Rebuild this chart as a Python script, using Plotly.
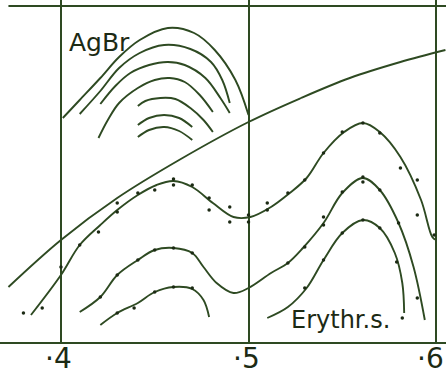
import plotly.graph_objects as go

# wavelength (micron) and arbitrary absorption units
ref_x = [0.372, 0.400, 0.430, 0.463, 0.500, 0.528, 0.554, 0.581, 0.605]
ref_y = [5.5, 10.2, 14.4, 18.2, 22.0, 24.4, 26.4, 28.0, 29.2]

# AgBr family (top left, between .4 and .5)
agbr_1x = [0.401, 0.410, 0.421, 0.431, 0.442, 0.457, 0.471, 0.482, 0.493, 0.500]
agbr_1y = [22.4, 24.2, 26.4, 28.5, 30.2, 31.4, 30.9, 29.2, 26.2, 22.7]
agbr_2x = [0.410, 0.421, 0.431, 0.442, 0.455, 0.469, 0.480, 0.486, 0.490]
agbr_2y = [22.8, 25.1, 27.4, 28.9, 29.7, 29.3, 28.0, 26.2, 23.9]
agbr_3x = [0.421, 0.429, 0.437, 0.447, 0.457, 0.466, 0.477, 0.485, 0.490]
agbr_3y = [23.8, 25.6, 26.9, 27.7, 28.0, 27.7, 26.4, 24.4, 22.9]
agbr_4x = [0.420, 0.425, 0.431, 0.441, 0.450, 0.458, 0.466, 0.474, 0.481]
agbr_4y = [20.4, 22.2, 23.9, 25.4, 26.2, 26.4, 26.0, 24.7, 23.0]
agbr_5x = [0.441, 0.445, 0.453, 0.461, 0.469, 0.476, 0.481]
agbr_5y = [23.6, 24.1, 24.4, 24.3, 23.4, 22.2, 21.0]
agbr_6x = [0.441, 0.447, 0.455, 0.463, 0.470]
agbr_6y = [21.7, 22.4, 22.7, 22.4, 21.5]
agbr_7x = [0.441, 0.447, 0.455, 0.463, 0.470]
agbr_7y = [20.5, 21.2, 21.5, 21.1, 20.2]

# Erythrosin family
ery_1x = [0.384, 0.400, 0.410, 0.421, 0.430, 0.441, 0.451, 0.460, 0.470, 0.481, 0.492,
          0.501, 0.512, 0.522, 0.531, 0.540, 0.551, 0.561, 0.570, 0.581, 0.592, 0.598, 0.600]
ery_1y = [2.7, 6.7, 9.7, 11.7, 13.2, 14.7, 15.7, 16.1, 15.5, 13.9, 12.5,
          12.5, 13.5, 14.9, 16.4, 18.9, 21.0, 21.9, 21.0, 18.5, 14.2, 10.5, 10.2]
ery_1dx = [0.380, 0.390, 0.400, 0.410, 0.420, 0.430, 0.430, 0.441, 0.450, 0.460, 0.460,
           0.470, 0.479, 0.479, 0.490, 0.490, 0.500, 0.500, 0.510, 0.510, 0.521, 0.530,
           0.540, 0.550, 0.561, 0.570, 0.581, 0.590, 0.590, 0.599]
ery_1dy = [2.9, 3.4, 7.5, 9.7, 11.0, 13.9, 13.0, 14.9, 15.2, 16.3, 15.7,
           15.7, 14.4, 13.2, 13.5, 12.0, 12.7, 12.0, 13.9, 13.2, 14.9, 16.2,
           18.9, 21.0, 21.9, 20.9, 17.4, 16.2, 12.7, 10.7]

ery_2x = [0.410, 0.421, 0.430, 0.441, 0.450, 0.460, 0.470, 0.476, 0.483, 0.492, 0.500,
          0.512, 0.521, 0.529, 0.540, 0.550, 0.561, 0.570, 0.580, 0.588, 0.594]
ery_2y = [3.0, 4.5, 6.7, 8.2, 9.2, 9.4, 8.9, 7.5, 5.9, 4.9, 5.4,
          6.9, 7.9, 9.4, 11.9, 14.9, 16.4, 15.2, 11.9, 7.5, 2.2]
ery_2dx = [0.421, 0.430, 0.441, 0.450, 0.460, 0.470, 0.521, 0.530, 0.540, 0.540,
           0.550, 0.561, 0.561, 0.570, 0.580, 0.590]
ery_2dy = [4.5, 6.7, 8.2, 9.2, 9.4, 8.9, 7.9, 9.5, 12.5, 11.7,
           15.0, 16.5, 16.0, 15.2, 11.9, 4.4]

ery_3x = [0.421, 0.430, 0.441, 0.450, 0.460, 0.470, 0.476, 0.479]
ery_3y = [1.7, 2.9, 3.9, 5.0, 5.5, 5.3, 4.2, 2.5]
ery_3dx = [0.430, 0.439, 0.450, 0.460, 0.470]
ery_3dy = [2.9, 3.4, 5.0, 5.5, 5.4]

ery_4x = [0.510, 0.521, 0.531, 0.540, 0.550, 0.561, 0.570, 0.578, 0.582, 0.583]
ery_4y = [2.4, 3.5, 5.4, 8.2, 10.9, 12.2, 11.4, 8.9, 5.9, 2.9]
ery_4dx = [0.530, 0.540, 0.550, 0.561, 0.570, 0.579, 0.582]
ery_4dy = [5.4, 8.2, 10.9, 12.2, 11.4, 8.0, 2.4]

tick_vals = [0.4, 0.5, 0.6]
tick_text = ['·4', '·5', '·6']
frame_x = [0.372, 0.6053]
top_line = 33.6

INK = '#2e4a22'
TEXT_INK = '#1c2a14'

fig = go.Figure()

# top border of the frame
fig.add_trace(go.Scatter(
    x=frame_x, y=[top_line, top_line], mode='lines',
    line=dict(color=INK, width=2), hoverinfo='skip', showlegend=False,
    cliponaxis=False
))

curves = [
    (ref_x, ref_y),
    (agbr_1x, agbr_1y), (agbr_2x, agbr_2y), (agbr_3x, agbr_3y), (agbr_4x, agbr_4y),
    (agbr_5x, agbr_5y), (agbr_6x, agbr_6y), (agbr_7x, agbr_7y),
    (ery_1x, ery_1y), (ery_2x, ery_2y), (ery_3x, ery_3y), (ery_4x, ery_4y),
]
for cx, cy in curves:
    fig.add_trace(go.Scatter(
        x=cx, y=cy, mode='lines',
        line=dict(color=INK, width=1.9, shape='spline', smoothing=1.0),
        hoverinfo='skip', showlegend=False
    ))

# measured points
for dx, dy in [(ery_1dx, ery_1dy), (ery_2dx, ery_2dy), (ery_3dx, ery_3dy), (ery_4dx, ery_4dy)]:
    fig.add_trace(go.Scatter(
        x=dx, y=dy, mode='markers',
        marker=dict(color=TEXT_INK, size=3.5),
        showlegend=False
    ))

# tick labels, drawn as annotations so they sit right under the axis
for tv, tt in zip(tick_vals, tick_text):
    shift = -6 if tv == tick_vals[-1] else -2
    fig.add_annotation(x=tv, y=0, yref='y', text=tt, showarrow=False,
                       xanchor='center', yanchor='top', xshift=shift, yshift=2,
                       font=dict(size=28, color=TEXT_INK, family='DejaVu Sans'))

# labels
fig.add_annotation(x=0.4033, y=30.0, text='AgBr', showarrow=False, xanchor='left',
                   font=dict(size=25, color=TEXT_INK, family='DejaVu Sans'))
fig.add_annotation(x=0.549, y=2.2, text='Erythr.s.', showarrow=False, xanchor='center',
                   font=dict(size=24, color=TEXT_INK, family='DejaVu Sans'))

fig.update_layout(
    width=446, height=374,
    margin=dict(l=0, r=0, t=0, b=32, autoexpand=False),
    plot_bgcolor='white', paper_bgcolor='white',
    showlegend=False,
)
fig.update_xaxes(
    range=[0.3675, 0.6053], automargin=False,
    tickvals=tick_vals, showticklabels=False,
    showgrid=True, gridcolor=INK, gridwidth=1.6,
    showline=True, linecolor=INK, linewidth=2,
    zeroline=False, ticks='',
)
fig.update_yaxes(
    range=[0, 34.2], automargin=False,
    showticklabels=False, showgrid=False,
    zeroline=False, showline=False,
)

# the page body has a default 8px margin; drop it so the figure fills the window
fig.write_html("out.html", config={'displayModeBar': False},
               post_script="document.body.style.margin='0';")
